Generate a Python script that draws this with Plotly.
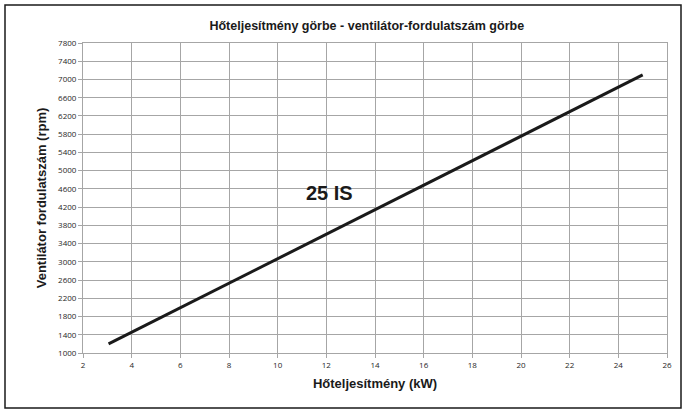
import plotly.graph_objects as go

# Heat output (kW) vs fan speed (rpm) for the 25 IS unit
heat_kw = [3.05, 25.0]
fan_rpm = [1200, 7100]

x_ticks = list(range(2, 27, 2))
y_ticks = list(range(1000, 7801, 400))

W, H = 685, 412
L, R, T, B = 83, 18, 43, 59
pw, ph = W - L - R, H - T - B

fig = go.Figure()
fig.add_trace(go.Scatter(x=heat_kw, y=fan_rpm, mode="lines",
                         line=dict(color="#1a1a1a", width=3), showlegend=False,
                         hoverinfo="skip"))

grid = "#a6a6a6"
bold_font = "Liberation Sans Narrow, Arial Narrow, Liberation Sans, Arial"
tickfont = dict(family="Open Sans, Arial, sans-serif", size=8, color="#262626")
fig.update_xaxes(range=[2, 26], tickvals=x_ticks, ticktext=[str(v) for v in x_ticks],
                 showgrid=True, gridcolor=grid, gridwidth=1, zeroline=False,
                 showline=True, linecolor=grid, mirror=True, linewidth=1,
                 ticks="outside", ticklen=4, tickcolor=grid, tickfont=tickfont,
                 title=dict(text="<b>Hőteljesítmény (kW)</b>", standoff=10,
                            font=dict(family=bold_font, size=13, color="#1a1a1a")))
fig.update_yaxes(range=[1000, 7800], tickvals=y_ticks, ticktext=[str(v) for v in y_ticks],
                 showgrid=True, gridcolor=grid, gridwidth=1, zeroline=False,
                 showline=True, linecolor=grid, mirror=True, linewidth=1,
                 ticks="outside", ticklen=4, tickcolor=grid, tickfont=tickfont,
                 title=dict(text="<b>Ventilátor fordulatszám (rpm)</b>", standoff=8,
                            font=dict(family=bold_font, size=13, color="#1a1a1a")))

fig.add_annotation(x=12.15, y=4520, text="<b>25 IS</b>", showarrow=False,
                   font=dict(family=bold_font, size=20, color="#1a1a1a"))

# Outer chart frame
fig.add_shape(type="rect", xref="paper", yref="paper",
              x0=(5 - L) / pw, x1=(681 - L) / pw,
              y0=(H - B - 408) / ph, y1=(H - B - 5) / ph,
              line=dict(color="#1a1a1a", width=1.5), layer="below")

fig.update_layout(
    width=W, height=H,
    margin=dict(l=L, r=R, t=T, b=B),
    paper_bgcolor="white", plot_bgcolor="white",
    title=dict(text="<b>Hőteljesítmény görbe - ventilátor-fordulatszám görbe</b>",
               x=(L + pw / 2) / W - 0.012, xanchor="center", y=1 - 26 / H, yanchor="middle",
               font=dict(family=bold_font, size=12.5, color="#1a1a1a")),
)

fig.write_html("out.html")
